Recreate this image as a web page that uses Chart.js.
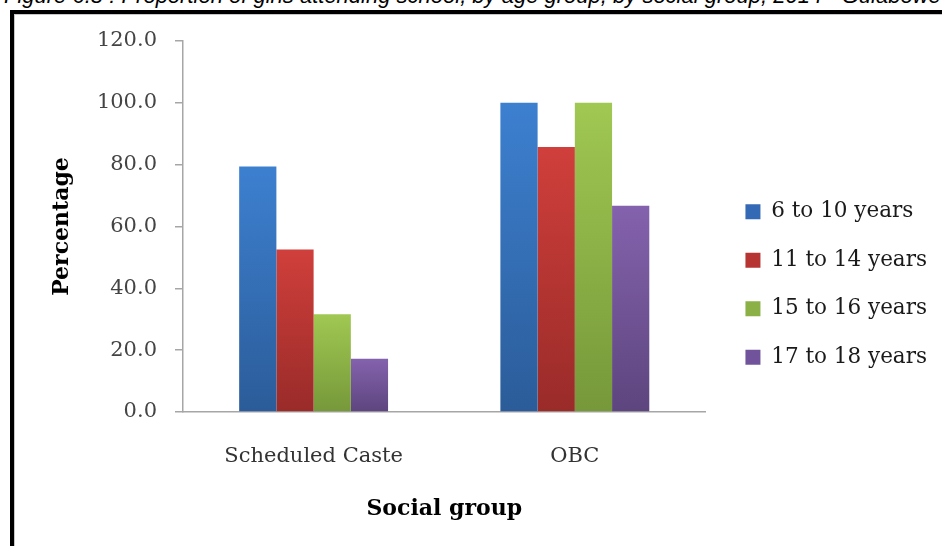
<!DOCTYPE html>
<html>
<head>
<meta charset="utf-8">
<script src="https://cdn.jsdelivr.net/npm/chart.js@4/dist/chart.umd.min.js"></script>
<style>
  html, body { margin: 0; padding: 0; background: #fff; overflow: hidden; }
  body { width: 942px; height: 546px; position: relative; }
  #title { position: absolute; left: 4px; top: -15px; white-space: nowrap;
    font-family: "Liberation Sans", Arial, sans-serif; font-style: italic; font-size: 22px; line-height: 22px; color: #000; }
  #frame { position: absolute; left: 10px; top: 10px; width: 940px; height: 545px;
    border-left: 4px solid #000; border-top: 4px solid #000; }
  #inner { position: absolute; left: 14px; top: 14px; width: 928px; height: 532px;
    border-left: 1px solid #c8c8c8; border-top: 1px solid #c8c8c8; box-sizing: border-box; }
  #wrap { position: absolute; left: 14px; top: 14px; width: 928px; height: 532px; }
</style>
</head>
<body>
<div id="title">Figure 6.8 : Proportion of girls attending school, by age group, by social group, 2014 - Gulabowe</div>
<div id="frame"></div>
<div id="inner"></div>
<div id="wrap"><canvas id="c" width="928" height="532"></canvas></div>
<script>
const categories = ["Scheduled Caste", "OBC"];
const seriesNames = ["6 to 10 years", "11 to 14 years", "15 to 16 years", "17 to 18 years"];
const age6to10 = [79.4, 100.0];
const age11to14 = [52.6, 85.7];
const age15to16 = [31.6, 100.0];
const age17to18 = [17.2, 66.7];
const yTicks = [0, 20, 40, 60, 80, 100, 120];

const topColors = ["#3D80D0", "#D03F3B", "#A0C852", "#8462AD"];
const botColors = ["#2B5C99", "#992B29", "#76983A", "#5D457E"];
const midColors = ["#3469B5", "#B63532", "#8AB046", "#70539A"];

function gradFor(i) {
  return function(ctx) {
    const chart = ctx.chart;
    const scales = chart.scales;
    if (ctx.type !== 'data' || !scales || !scales.y || !chart.chartArea) return midColors[i];
    const yTop = scales.y.getPixelForValue(ctx.raw);
    const yBot = scales.y.getPixelForValue(0);
    if (!isFinite(yTop) || !isFinite(yBot) || yBot - yTop < 1) return midColors[i];
    const g = chart.ctx.createLinearGradient(0, yTop, 0, yBot);
    g.addColorStop(0, topColors[i]);
    g.addColorStop(1, botColors[i]);
    return g;
  };
}

const seriesData = [age6to10, age11to14, age15to16, age17to18];
const datasets = seriesNames.map((name, i) => ({
  label: name,
  data: seriesData[i],
  backgroundColor: gradFor(i),
  borderWidth: 0,
  barPercentage: 1.0,
  categoryPercentage: 0.57
}));

const serif = "'DejaVu Serif', serif";

const legendShift = {
  id: 'legendShift',
  afterLayout(chart) {
    const lg = chart.legend;
    if (!lg) return;
    lg.left += 13; lg.right += 13;
    lg.top -= 9; lg.bottom -= 9;
  }
};

new Chart(document.getElementById('c'), {
  type: 'bar',
  data: { labels: categories, datasets },
  options: {
    responsive: false,
    animation: false,
    events: [],
    layout: { padding: { left: 0, right: 18, top: 27, bottom: 0 } },
    plugins: {
      tooltip: { enabled: false },
      legend: {
        position: 'right',
        align: 'center',
        labels: {
          generateLabels: (chart) => seriesNames.map((n, i) => ({
            text: n, fillStyle: midColors[i], strokeStyle: midColors[i], lineWidth: 0,
            hidden: false, datasetIndex: i, fontColor: '#1a1a1a'
          })),
          boxWidth: 15,
          boxHeight: 15,
          padding: 27,
          color: '#1a1a1a',
          font: { family: serif, size: 21.5 }
        }
      }
    },
    scales: {
      x: {
        grid: { display: true, drawOnChartArea: false, drawTicks: false },
        border: { display: true, color: '#A6A6A6', width: 1.5 },
        ticks: { color: '#333', padding: 32, font: { family: serif, size: 21 } },
        title: { display: true, text: 'Social group', color: '#000',
          font: { family: serif, size: 22, weight: 'bold' }, padding: { top: 0, bottom: 24 } },
        afterFit: (s) => { s.height = 134; s.paddingLeft = 0; s.paddingRight = 0; }
      },
      y: {
        min: 0, max: 120,
        afterBuildTicks: (s) => { s.ticks = yTicks.map(v => ({ value: v })); },
        grid: { display: true, drawOnChartArea: false, drawTicks: true, tickLength: 8, color: '#A6A6A6', lineWidth: 1.5 },
        border: { display: true, color: '#A6A6A6', width: 1.5 },
        ticks: { color: '#444', padding: 18, font: { family: serif, size: 21 },
          callback: (v) => Number(v).toFixed(1) },
        title: { display: true, text: 'Percentage', color: '#000',
          font: { family: serif, size: 22, weight: 'bold' }, padding: { top: 35, bottom: 0 } },
        afterFit: (s) => { s.width = 169; s.paddingTop = 0; s.paddingBottom = 0; }
      }
    }
  },
  plugins: [legendShift]
});
</script>
</body>
</html>
